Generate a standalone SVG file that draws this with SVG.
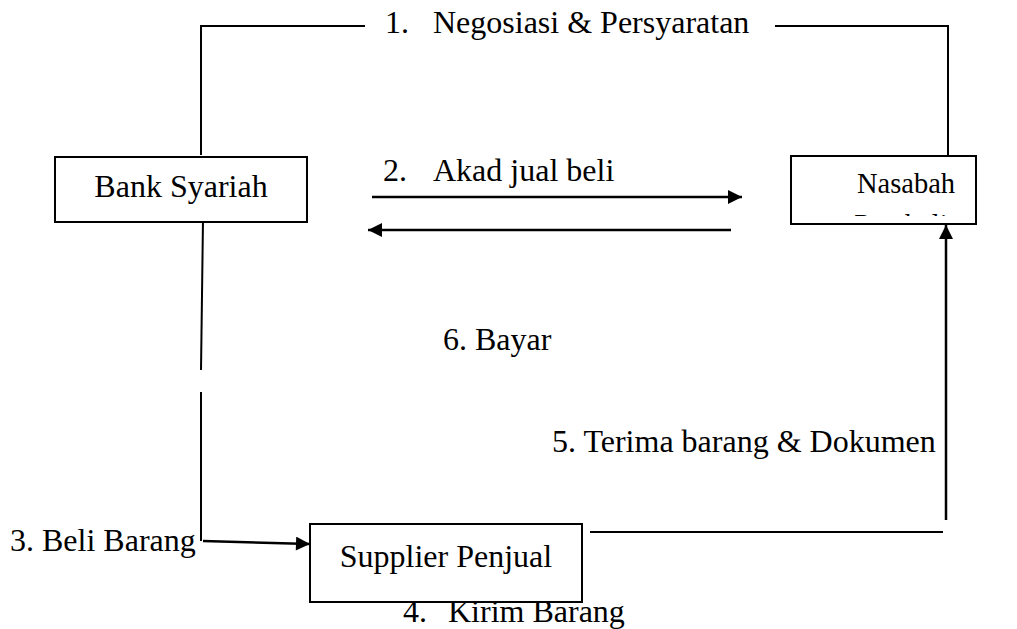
<svg xmlns="http://www.w3.org/2000/svg" width="1017" height="629" viewBox="0 0 1017 629">
<style>
text{font-family:"Liberation Serif","Times New Roman",serif;font-size:32px;fill:#000}
.box{fill:#fff;stroke:#000;stroke-width:2}
.ln{fill:none;stroke:#000;stroke-width:2}
.ar{fill:none;stroke:#000;stroke-width:2.5;marker-end:url(#ah)}
</style>
<defs>
<marker id="ah" viewBox="0 0 10 10" refX="10" refY="5" markerUnits="userSpaceOnUse" markerWidth="16" markerHeight="14" orient="auto">
<path d="M0,0 L10,5 L0,10 Z" fill="#000"/>
</marker>
<clipPath id="nclip"><rect x="792" y="157" width="184" height="59"/></clipPath>
</defs>
<rect width="1017" height="629" fill="#fff"/>
<g id="connectors">
<polyline class="ln" points="201,155 201,26 365,26"/>
<polyline class="ln" points="775,26 948,26 948,156"/>
<line class="ar" x1="372" y1="197" x2="742" y2="197"/>
<line class="ar" x1="731" y1="230" x2="368" y2="230"/>
<line class="ln" x1="203" y1="220" x2="201" y2="370"/>
<polyline class="ln" points="201,392 201,541"/>
<line class="ar" x1="203" y1="541" x2="310" y2="544"/>
<line class="ln" x1="590" y1="532" x2="943" y2="532"/>
<line class="ar" x1="946" y1="520" x2="946" y2="225"/>
<text x="385" y="33">1.</text><text x="433" y="33">Negosiasi &amp; Persyaratan</text>
<text x="383" y="181">2.</text><text x="433" y="181">Akad jual beli</text>
<text x="10" y="551">3.  Beli Barang</text>
<text x="403" y="622">4.</text><text x="448" y="622">Kirim Barang</text>
<text x="552" y="452">5. Terima barang &amp; Dokumen</text>
<text x="443" y="350">6. Bayar</text>
</g>
<g id="bank">
<rect class="box" x="55" y="157" width="252" height="65"/>
<text x="181" y="197" text-anchor="middle">Bank Syariah</text>
</g>
<g id="nasabah">
<rect class="box" x="791" y="156" width="185" height="68"/>
<text x="906" y="193" text-anchor="middle" style="font-size:28.5px">Nasabah</text>
<text x="901" y="233.5" text-anchor="middle" style="font-size:28.5px" clip-path="url(#nclip)">Pembeli</text>
</g>
<g id="supplier">
<rect class="box" x="310" y="524" width="272" height="78"/>
<text x="446" y="567" text-anchor="middle">Supplier Penjual</text>
</g>
</svg>
